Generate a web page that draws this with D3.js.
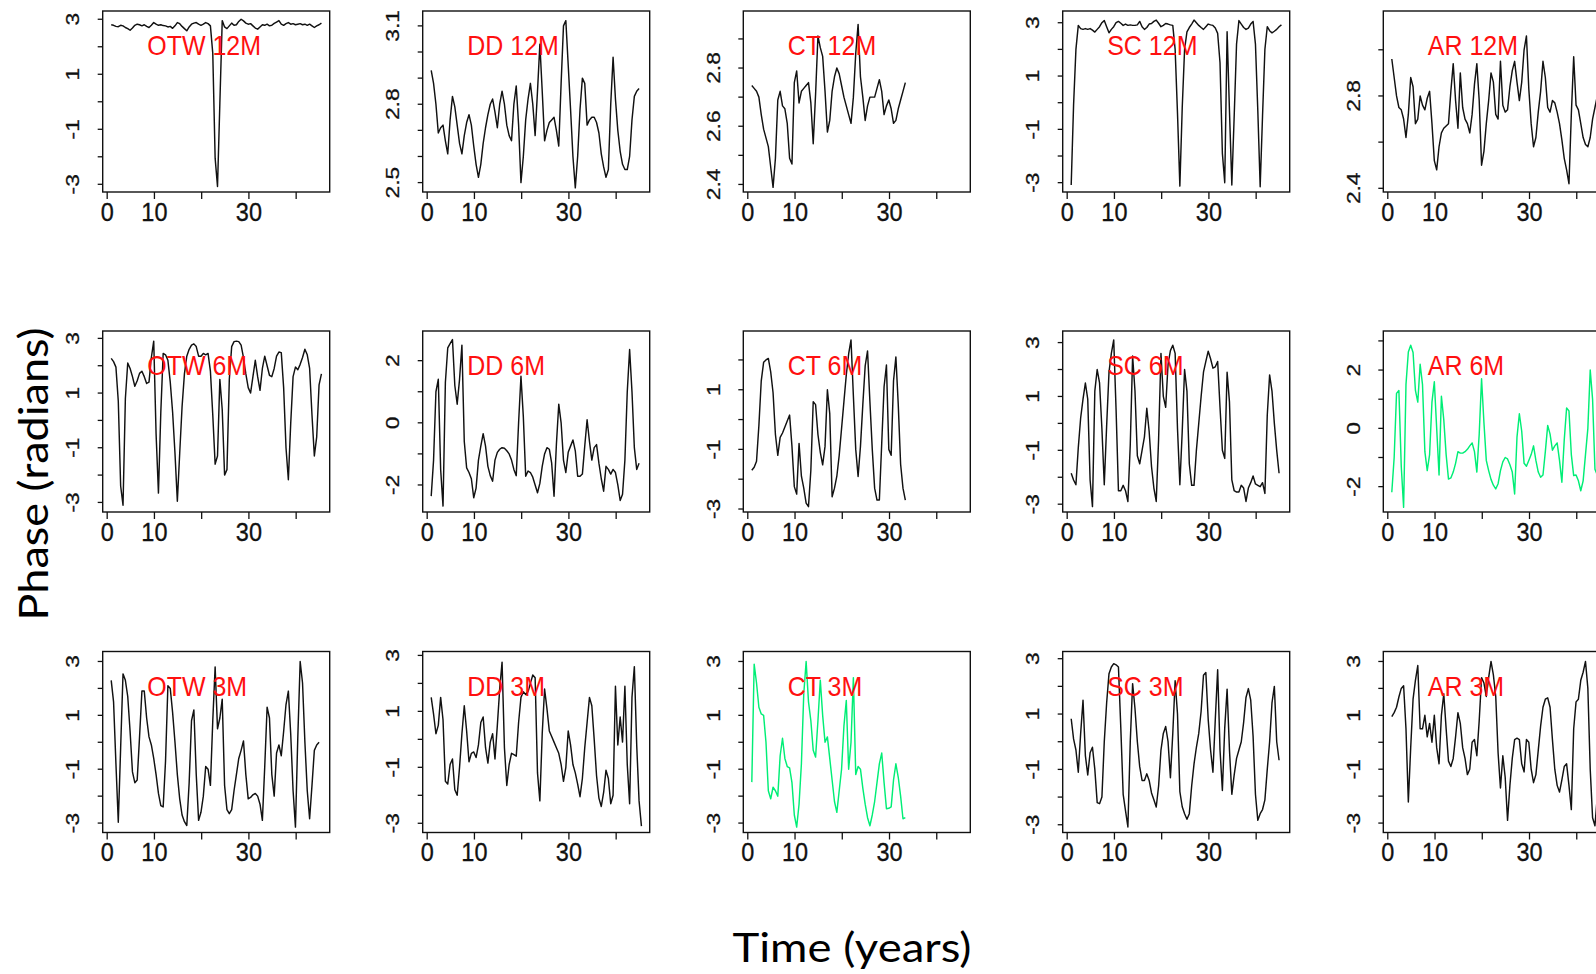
<!DOCTYPE html>
<html><head><meta charset="utf-8">
<script src="https://cdn.jsdelivr.net/npm/d3@7"></script>
<style>body{margin:0;background:#fff}svg{display:block}</style>
</head><body>
<svg id="c" width="1596" height="974"></svg>
<script>
// ---------- data ----------
const xStart = 0.85, xStep = 0.5;          // time index of first sample and spacing (years)
const xTicks = [0, 10, 20, 30, 40];
const xTickLabels = ["0", "10", "", "30", ""];

const titles = ["OTW 12M","DD 12M","CT 12M","SC 12M","AR 12M",
                "OTW 6M","DD 6M","CT 6M","SC 6M","AR 6M",
                "OTW 3M","DD 3M","CT 3M","SC 3M","AR 3M"];

const otw12 = [2.80,2.78,2.74,2.73,2.78,2.76,2.70,2.66,2.60,2.68,2.78,2.82,2.80,2.76,2.80,2.74,2.70,2.78,2.88,2.82,2.78,2.80,2.77,2.76,2.72,2.74,2.67,2.76,2.88,2.84,2.74,2.66,2.58,2.72,2.82,2.86,2.88,2.82,2.78,2.82,2.88,2.84,2.76,1.76,-2.05,-3.08,-0.05,2.95,2.72,2.66,2.76,2.86,2.78,2.80,2.92,3.00,2.94,2.86,2.82,2.84,2.76,2.68,2.64,2.72,2.80,2.78,2.82,2.76,2.78,2.85,2.90,2.95,2.82,2.78,2.84,2.88,2.82,2.84,2.80,2.82,2.84,2.80,2.82,2.78,2.82,2.76,2.70,2.76,2.80,2.86];
const dd12 = [2.93,2.88,2.80,2.69,2.71,2.72,2.66,2.61,2.74,2.83,2.79,2.72,2.65,2.61,2.68,2.73,2.76,2.72,2.64,2.57,2.52,2.57,2.65,2.71,2.76,2.80,2.82,2.77,2.71,2.80,2.85,2.80,2.72,2.68,2.66,2.80,2.87,2.72,2.50,2.60,2.74,2.82,2.88,2.80,2.68,2.85,3.03,2.85,2.66,2.70,2.73,2.74,2.75,2.70,2.64,2.88,3.10,3.12,2.95,2.78,2.60,2.48,2.60,2.78,2.90,2.88,2.72,2.74,2.75,2.75,2.73,2.69,2.61,2.56,2.52,2.55,2.80,2.98,2.82,2.70,2.62,2.57,2.55,2.55,2.60,2.74,2.83,2.85,2.86];
const ct12 = [2.74,2.73,2.72,2.70,2.64,2.59,2.56,2.53,2.46,2.39,2.49,2.69,2.72,2.67,2.66,2.61,2.49,2.47,2.75,2.79,2.68,2.72,2.73,2.74,2.75,2.68,2.54,2.71,2.91,2.87,2.84,2.72,2.58,2.62,2.72,2.77,2.80,2.78,2.74,2.70,2.67,2.64,2.61,2.70,2.85,2.95,2.77,2.70,2.62,2.67,2.70,2.70,2.70,2.73,2.76,2.72,2.64,2.67,2.69,2.66,2.61,2.62,2.66,2.69,2.72,2.75];
const sc12 = [-3.09,-0.1,2.0,2.9,2.78,2.75,2.78,2.75,2.78,2.72,2.65,2.75,2.85,3.0,3.08,2.85,2.62,2.75,2.85,3.0,3.05,2.98,2.9,2.95,2.9,2.92,2.9,2.9,2.92,3.05,2.85,2.75,2.82,2.95,2.97,3.05,3.1,2.98,2.85,2.9,2.97,2.95,2.92,2.9,2.0,-0.4,-3.13,-0.2,2.0,2.66,2.82,2.95,3.1,3.0,2.9,2.82,2.75,2.85,2.95,2.92,2.9,2.8,2.6,1.5,-1.9,-3.0,2.66,-0.3,-3.09,-0.5,2.2,3.08,2.95,2.82,2.75,2.8,2.95,3.05,2.2,-0.3,-3.15,-0.5,2.0,2.85,2.7,2.62,2.68,2.75,2.85,2.92];
const ar12 = [2.96,2.88,2.80,2.75,2.74,2.70,2.62,2.72,2.88,2.84,2.68,2.70,2.80,2.76,2.74,2.79,2.82,2.68,2.52,2.48,2.58,2.64,2.66,2.67,2.68,2.82,2.94,2.78,2.66,2.90,2.75,2.70,2.68,2.64,2.72,2.85,2.94,2.78,2.50,2.56,2.68,2.78,2.90,2.86,2.72,2.70,2.95,2.76,2.73,2.74,2.84,2.91,2.95,2.86,2.78,2.86,3.00,3.06,2.83,2.68,2.58,2.62,2.73,2.82,2.95,2.88,2.75,2.73,2.78,2.77,2.73,2.68,2.61,2.53,2.48,2.42,2.72,2.97,2.76,2.74,2.68,2.62,2.59,2.58,2.62,2.70,2.75,2.80,2.82,2.85];

const otw6 = [2.27,2.15,1.95,0.7,-2.4,-3.1,0.8,2.1,1.9,1.6,1.25,1.45,1.72,1.8,1.6,1.35,1.4,2.3,2.9,-0.5,-2.66,0.3,2.45,2.4,2.2,1.4,0.3,-1.2,-2.96,-1.2,0.5,1.7,2.35,2.6,2.75,2.8,2.7,2.35,2.35,2.45,2.4,2.45,1.8,0.2,-1.6,-1.3,1.5,0.4,-2.0,-1.8,1.5,2.7,2.88,2.9,2.88,2.75,2.3,1.7,1.2,1.0,1.6,2.2,1.6,1.1,1.9,2.35,2.0,1.65,1.6,1.9,2.35,2.5,2.48,1.2,-1.0,-2.17,-0.1,1.6,1.95,1.85,2.05,2.3,2.6,2.4,1.9,0.2,-1.3,-0.6,1.3,1.7];
const dd6 = [-2.36,-1.2,1.0,1.4,-1.5,-2.68,1.3,2.41,2.55,2.68,1.2,0.6,1.4,2.5,-0.6,-1.45,-1.6,-1.8,-2.41,-2.1,-1.2,-0.75,-0.35,-0.75,-1.4,-1.7,-1.88,-1.2,-0.95,-0.85,-0.8,-0.82,-0.9,-1.0,-1.2,-1.5,-1.7,0.0,1.5,0.2,-1.72,-1.55,-1.6,-1.75,-2.0,-2.25,-1.95,-1.4,-1.0,-0.8,-0.85,-1.3,-2.36,-0.7,0.6,0.0,-1.2,-1.6,-0.95,-0.75,-0.55,-0.9,-1.72,-1.72,-1.65,-0.75,0.1,-0.6,-1.2,-0.8,-0.7,-1.3,-1.8,-2.2,-1.4,-1.5,-1.65,-1.5,-1.6,-2.0,-2.5,-2.3,-1.2,1.0,2.36,1.0,-0.8,-1.5,-1.3];
const ct6 = [-1.7,-1.6,-1.4,-0.2,1.3,1.92,2.0,2.05,1.6,0.9,-0.5,-1.2,-0.6,-0.45,-0.25,-0.05,0.15,-0.9,-2.25,-2.5,-0.8,-1.9,-2.3,-2.8,-2.92,-1.7,0.6,0.5,-0.5,-1.1,-1.52,-0.9,1.0,0.2,-2.59,-2.3,-1.9,-1.2,-0.3,0.6,1.5,2.2,2.67,0.8,-1.0,-1.91,-0.9,0.5,1.8,2.3,0.6,-1.0,-2.3,-2.7,-2.7,-0.8,1.1,1.83,-1.0,-1.2,1.3,2.1,0.5,-1.5,-2.3,-2.7];
const sc6 = [-1.85,-2.1,-2.28,-0.9,0.2,0.9,1.5,0.9,-2.1,-3.09,1.2,2.0,1.5,-0.2,-2.28,-0.1,1.9,2.6,3.1,0.5,-2.5,-2.5,-2.3,-2.5,-2.9,-0.8,2.5,1.2,-1.2,-1.5,-1.0,-0.5,0.56,-0.3,-1.6,-2.4,-2.9,-0.6,2.6,1.0,0.6,2.2,2.7,2.9,2.6,-0.2,-2.28,-0.3,2.0,1.2,-1.5,-2.3,-2.3,-1.0,0.0,1.0,1.9,2.3,2.68,2.4,2.05,2.1,2.3,0.6,-1.0,-1.3,1.9,0.8,-2.1,-2.5,-2.55,-2.55,-2.3,-2.4,-2.9,-2.4,-2.2,-1.95,-2.25,-2.3,-2.35,-2.2,-2.6,0.3,1.8,1.2,0.0,-1.0,-1.85];
const ar6 = [-2.19,-1.0,1.2,1.3,-1.3,-2.71,1.5,2.62,2.85,2.6,1.3,0.9,2.2,1.5,-0.8,-1.45,-0.9,0.9,1.6,0.0,-1.6,1.1,0.3,-0.9,-1.74,-1.7,-1.5,-1.2,-0.8,-0.85,-0.85,-0.8,-0.72,-0.6,-0.5,-0.8,-1.5,-0.2,1.7,0.2,-1.1,-1.45,-1.75,-1.95,-2.08,-1.9,-1.45,-1.15,-1.0,-1.05,-1.25,-1.5,-2.25,-0.3,0.5,-0.1,-1.2,-1.3,-1.1,-0.9,-0.6,-1.1,-1.5,-1.68,-1.6,-0.8,0.1,-0.2,-0.75,-0.6,-0.5,-1.1,-1.85,-0.4,0.7,0.6,-0.9,-1.62,-1.6,-1.8,-2.14,-1.8,-0.9,0.0,2.0,1.0,-1.4,-1.6,-1.5];

const otw3 = [2.3,1.5,-0.8,-2.97,-0.2,2.54,2.3,1.7,0.4,-1.1,-1.5,-1.4,0.2,1.9,1.9,0.9,0.2,-0.1,-0.6,-1.2,-1.9,-2.35,-2.4,-0.7,2.1,2.0,1.1,0.0,-1.2,-2.1,-2.7,-2.95,-3.09,-1.5,0.8,1.2,-1.2,-2.9,-2.6,-2.0,-0.9,-1.0,-1.6,0.8,2.8,0.5,0.9,1.6,-1.6,-2.5,-2.65,-2.5,-1.8,-1.2,-0.6,-0.3,0.05,-1.2,-2.1,-2.05,-1.95,-1.9,-2.0,-2.3,-2.9,-0.9,1.3,0.9,-1.2,-2.0,-0.4,-0.1,-0.5,0.4,1.4,1.9,0.3,-1.8,-3.15,0.2,3.0,2.2,0.0,-1.8,-2.84,-1.6,-0.3,-0.1,0.0];
const dd3 = [1.5,0.9,0.2,0.5,1.5,0.7,-1.5,-1.6,-0.9,-0.7,-1.8,-2.0,-1.0,0.2,1.2,0.3,-0.8,-0.5,-0.45,-0.65,-0.2,0.6,0.8,-0.3,-0.85,-0.1,0.2,-0.7,0.5,1.8,2.76,-0.3,-1.65,-0.9,-0.5,-0.55,-0.6,0.6,1.5,1.7,1.6,1.7,2.0,2.3,2.2,-1.2,-2.2,0.2,1.8,1.1,0.3,0.1,-0.1,-0.3,-0.5,-0.9,-1.5,-1.0,0.3,-0.2,-0.9,-1.2,-1.6,-2.05,-1.4,-0.3,0.6,1.5,1.2,0.0,-1.3,-2.1,-2.4,-1.9,-1.1,-1.4,-2.3,-2.0,1.9,-0.2,0.8,-0.1,1.9,-0.9,-2.3,1.5,2.6,-0.2,-2.2,-3.1];
const ct3 = [-1.48,2.9,2.2,1.3,1.05,1.0,0.0,-1.8,-2.1,-1.67,-1.8,-2.0,-0.5,0.15,-0.6,-0.9,-0.95,-1.5,-2.7,-3.15,-2.3,-0.8,1.8,3.0,1.5,0.8,-0.3,-0.55,0.8,2.3,1.0,0.0,0.2,-0.6,-1.4,-2.2,-2.6,-1.8,-1.0,0.6,1.55,-1.0,0.0,2.4,-1.2,-0.9,-1.0,-1.7,-2.3,-2.8,-3.1,-2.7,-2.2,-1.5,-0.8,-0.4,-1.5,-2.47,-2.45,-2.4,-1.4,-0.8,-1.3,-2.0,-2.84,-2.8];
const sc3 = [0.83,0.1,-0.3,-1.1,0.3,1.5,-0.5,-1.2,-0.4,-0.2,-1.0,-2.2,-2.24,-2.0,0.0,1.4,2.46,2.7,2.82,2.78,2.7,0.5,-1.9,-2.5,-3.08,0.0,2.1,1.2,0.0,-0.9,-1.4,-1.4,-1.16,-1.4,-1.85,-2.1,-2.36,-1.6,-0.3,0.3,0.55,0.0,-1.3,0.3,2.2,1.0,-1.8,-2.35,-2.6,-2.8,-2.6,-1.6,-0.8,-0.2,0.3,1.1,2.4,2.5,0.8,-0.3,-1.1,0.8,2.6,-0.3,-1.76,0.5,1.9,-0.3,-1.9,-1.2,-0.6,-0.3,0.0,0.7,1.6,1.92,1.5,0.2,-1.9,-2.84,-2.6,-2.45,-2.1,-1.0,0.0,1.4,2.0,0.0,-0.67];
const ar3 = [0.95,1.1,1.3,1.68,2.0,2.1,0.5,-2.22,-0.2,1.6,2.3,2.85,0.5,0.5,1.0,0.2,0.7,0.0,1.0,-0.2,-0.8,1.0,1.8,0.5,-0.7,-0.9,-0.6,0.2,1.1,0.7,-0.2,-0.6,-1.2,-1.0,0.0,0.1,-0.5,0.8,2.4,2.2,1.7,2.4,3.0,2.5,1.7,-0.4,-1.7,-0.5,-1.3,-2.9,-1.6,-0.6,0.1,0.15,0.1,-0.8,-1.1,0.1,0.0,-1.0,-1.5,-1.2,-0.3,0.6,1.3,1.6,1.65,1.3,0.1,-1.0,-1.6,-1.85,-1.4,-0.9,-0.8,-1.6,-2.5,0.5,1.5,1.6,2.3,2.6,3.0,2.0,-1.0,-2.8,-3.1,-2.0,-0.5];

const seriesList = [otw12, dd12, ct12, sc12, ar12, otw6, dd6, ct6, sc6, ar6, otw3, dd3, ct3, sc3, ar3];

// y-axis domains, ticks and tick labels per panel
const yDomains = [[-3.28,3.30],[2.464,3.157],[2.374,2.996],[-3.35,3.44],[2.384,3.168],
                  [-3.35,3.27],[-2.87,2.955],[-3.10,2.97],[-3.29,3.43],[-2.87,3.34],
                  [-3.35,3.37],[-3.33,3.14],[-3.35,3.37],[-3.28,3.26],[-3.35,3.37]];
const pm3 = [-3,-2,-1,0,1,2,3], pm3L = ["-3","","-1","","1","","3"];
const yTicks = [pm3,[2.5,2.6,2.7,2.8,2.9,3.0,3.1],[2.4,2.5,2.6,2.7,2.8,2.9],pm3,[2.4,2.6,2.8,3.0],
                pm3,[-2,-1,0,1,2],[-3,-2,-1,0,1,2],pm3,[-2,-1,0,1,2,3],
                pm3,pm3,pm3,pm3,pm3];
const yTickLabels = [pm3L,["2.5","","","2.8","","","3.1"],["2.4","","2.6","","2.8",""],pm3L,["2.4","","2.8",""],
                     pm3L,["-2","","0","","2"],["-3","","-1","","1",""],pm3L,["-2","","0","","2",""],
                     pm3L,pm3L,pm3L,pm3L,pm3L];
const highlighted = ["AR 6M", "CT 3M"];

// ---------- layout ----------
const colLeft = [102.7, 422.7, 743.3, 1062.7, 1383.3];
const rowTop = [11, 331, 651.5];
const PW = 227, PH = 181;
const xDomain = [-0.95, 47.1];

const svg = d3.select("#c");
const font = "'Liberation Sans', Arial, sans-serif";

seriesList.forEach((vals, k) => {
  const r = Math.floor(k / 5), c = k % 5;
  const L = colLeft[c], T = rowTop[r];
  const x = d3.scaleLinear().domain(xDomain).range([L, L + PW]);
  const y = d3.scaleLinear().domain(yDomains[k]).range([T + PH, T]);
  const g = svg.append("g");
  const clipId = "clip" + k;
  g.append("clipPath").attr("id", clipId).append("rect")
    .attr("x", L).attr("y", T).attr("width", PW).attr("height", PH);

  const line = d3.line().x((d, i) => x(xStart + i * xStep)).y(d => y(d));
  g.append("path").datum(vals)
    .attr("clip-path", `url(#${clipId})`)
    .attr("fill", "none")
    .attr("stroke", highlighted.includes(titles[k]) ? "#00ee76" : "#111")
    .attr("stroke-width", 1.45)
    .attr("stroke-linejoin", "round")
    .attr("d", line);

  g.append("rect").attr("x", L).attr("y", T).attr("width", PW).attr("height", PH)
    .attr("fill", "none").attr("stroke", "#111").attr("stroke-width", 1.4);

  xTicks.forEach((t, i) => {
    g.append("line").attr("x1", x(t)).attr("x2", x(t)).attr("y1", T + PH).attr("y2", T + PH + 7)
      .attr("stroke", "#111").attr("stroke-width", 1.3);
    if (xTickLabels[i]) {
      g.append("text").attr("transform", `translate(${x(t)},${T + PH + 28.5}) scale(1,1.12)`)
        .attr("text-anchor", "middle").attr("font-family", font).attr("font-size", 23.5)
        .attr("fill", "#111").attr("stroke", "#111").attr("stroke-width", 0.3).text(xTickLabels[i]);
    }
  });

  yTicks[k].forEach((t, i) => {
    g.append("line").attr("x1", L - 5).attr("x2", L).attr("y1", y(t)).attr("y2", y(t))
      .attr("stroke", "#111").attr("stroke-width", 1.3);
    const lab = yTickLabels[k][i];
    if (lab) {
      g.append("text").attr("transform", `translate(${L - 23.5},${y(t)}) scale(1,1.3) rotate(-90)`)
        .attr("text-anchor", "middle").attr("font-family", font).attr("font-size", 17.5)
        .attr("fill", "#111").attr("stroke", "#111").attr("stroke-width", 0.25).text(lab);
    }
  });

  g.append("text").attr("transform", `translate(${L + 44.5},${T + 44}) scale(1,1.1)`)
    .attr("font-family", font).attr("font-size", 25).attr("fill", "#ff1010").text(titles[k]);
});

svg.append("text").attr("transform", "translate(48,474) rotate(-90)")
  .attr("text-anchor", "middle").attr("font-family", "Lato, 'Open Sans', sans-serif")
  .attr("font-size", 40).attr("textLength", 293).attr("lengthAdjust", "spacingAndGlyphs")
  .attr("fill", "#000").text("Phase (radians)");
svg.append("text").attr("x", 852).attr("y", 962)
  .attr("text-anchor", "middle").attr("font-family", "Lato, 'Open Sans', sans-serif")
  .attr("font-size", 40).attr("textLength", 239).attr("lengthAdjust", "spacingAndGlyphs")
  .attr("fill", "#000").text("Time (years)");
</script>
</body></html>
